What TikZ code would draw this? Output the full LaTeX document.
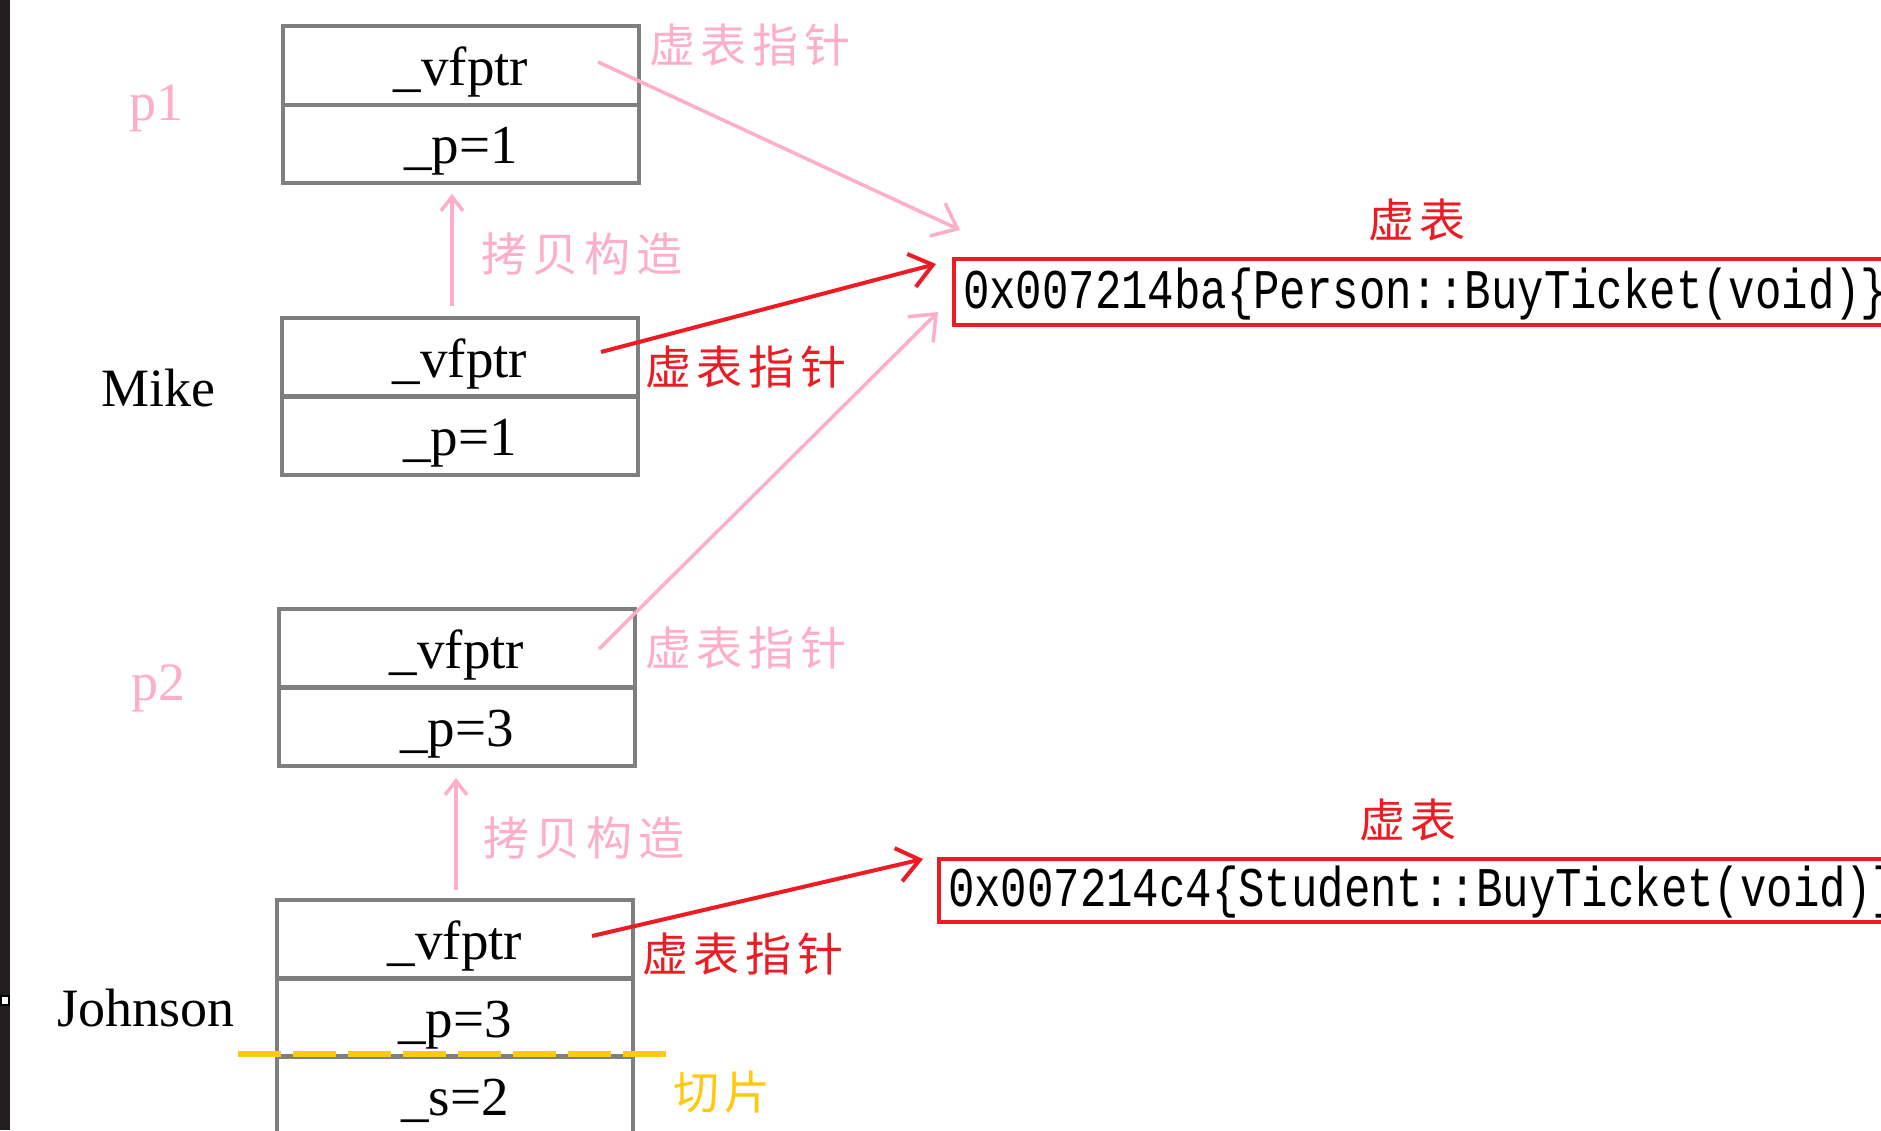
\documentclass[tikz,border=0pt]{standalone}
\usepackage{fontspec}
\setmainfont{Liberation Serif}
\newfontfamily\cjk{Noto Sans CJK SC}
\newfontfamily\monof[FakeStretch=0.786]{Liberation Mono}
\usetikzlibrary{arrows.meta}
\definecolor{cellgray}{HTML}{7F7F7F}
\definecolor{vred}{HTML}{ED1C24}
\definecolor{vpink}{HTML}{FFAEC9}
\definecolor{vyellow}{HTML}{FFC90E}
\definecolor{barbrown}{HTML}{231F20}
\newcommand\cjs{\kern 6pt}
\begin{document}
\begin{tikzpicture}[x=1pt,y=-1pt,
  cell/.style={draw=cellgray, line width=4pt, minimum width=356pt, minimum height=78.5pt,
    inner sep=0pt, anchor=north west, text height=44pt, text depth=4pt,
    font=\fontsize{55}{60}\selectfont},
  objname/.style={anchor=base, font=\fontsize{54}{60}\selectfont},
  cjklbl/.style={font=\cjk\fontsize{46}{50}\selectfont, inner sep=0pt},
  vtab/.style={draw=vred, line width=4pt, anchor=north west, inner xsep=9pt, inner ysep=0pt,
    text width=976pt, align=left, minimum height=66pt, text height=40pt, text depth=8pt,
    font=\monof\fontsize{56}{60}\selectfont},
  pinkptr/.style={draw=vpink, line width=3.5pt, -{Straight Barb[length=22pt,width=36pt]}},
  redptr/.style={draw=vred, line width=4pt, -{Straight Barb[length=22pt,width=34pt]}},
  copyarrow/.style={draw=vpink, line width=3.5pt, -{Straight Barb[length=14pt,width=22pt]}},
]
\path[use as bounding box, clip] (0,0) rectangle (1881,1130);
\fill[white] (0,0) rectangle (1881,1130);
\fill[barbrown] (0,0) rectangle (10,1130);
\draw[black, fill=white, line width=1.5pt] (1,996) rectangle (9,1005);

% objects
\node[cell] (p1v) at (281,24) {\_vfptr};
\node[cell] (p1p) at (281,102.5) {\_p=1};
\node[cell] (mkv) at (280,316) {\_vfptr};
\node[cell] (mkp) at (280,394) {\_p=1};
\node[cell] (p2v) at (277,607) {\_vfptr};
\node[cell] (p2p) at (277,685) {\_p=3};
\node[cell] (jnv) at (275,898) {\_vfptr};
\node[cell] (jnp) at (275,976) {\_p=3};
\node[cell] (jns) at (275,1054) {\_s=2};

% object names
\node[objname, text=vpink] (lp1) at (156,120) {p1};
\node[objname] (lmk) at (158,406) {Mike};
\node[objname, text=vpink] (lp2) at (158,700) {p2};
\node[objname] (ljn) at (146,1026) {Johnson};

% virtual tables
\node[vtab] (vt1) at (952,257) {0x007214ba\{Person::BuyTicket(void)\}};
\node[vtab, minimum height=63pt] (vt2) at (937,857) {0x007214c4\{Student::BuyTicket(void)\}};
\node[cjklbl, text=vred] (vt1l) at (1417,220) {虚\cjs 表};
\node[cjklbl, text=vred] (vt2l) at (1408,820) {虚\cjs 表};

% labels
\node[cjklbl, text=vpink] (lb1) at (750,45) {虚\cjs 表\cjs 指\cjs 针};
\node[cjklbl, text=vpink] (lb2) at (582,254) {拷\cjs 贝\cjs 构\cjs 造};
\node[cjklbl, text=vred] (lb3) at (746,367) {虚\cjs 表\cjs 指\cjs 针};
\node[cjklbl, text=vpink] (lb4) at (746,648) {虚\cjs 表\cjs 指\cjs 针};
\node[cjklbl, text=vpink] (lb5) at (584,838) {拷\cjs 贝\cjs 构\cjs 造};
\node[cjklbl, text=vred] (lb6) at (743,954) {虚\cjs 表\cjs 指\cjs 针};
\node[cjklbl, text=vyellow] (lb7) at (722,1092) {切\cjs 片};

% slicing line
\draw[vyellow, line width=5.5pt, dash pattern=on 43pt off 12pt] (238,1054) -- (667,1054);

% pointer coordinates
\coordinate (s1) at (598,62);
\coordinate (e1) at (960,230);
\coordinate (s2) at (601,352);
\coordinate (e2) at (936,264);
\coordinate (s3) at (599,649);
\coordinate (e3) at (938,312);
\coordinate (s4) at (592,936);
\coordinate (e4) at (923,859);
\coordinate (c1s) at (452,306);
\coordinate (c1e) at (452,194);
\coordinate (c2s) at (456,890);
\coordinate (c2e) at (456,778);

\draw[pinkptr] (s1) -- (e1);
\draw[redptr] (s2) -- (e2);
\draw[pinkptr] (s3) -- (e3);
\draw[redptr] (s4) -- (e4);
\draw[copyarrow] (c1s) -- (c1e);
\draw[copyarrow] (c2s) -- (c2e);
\end{tikzpicture}
\end{document}
